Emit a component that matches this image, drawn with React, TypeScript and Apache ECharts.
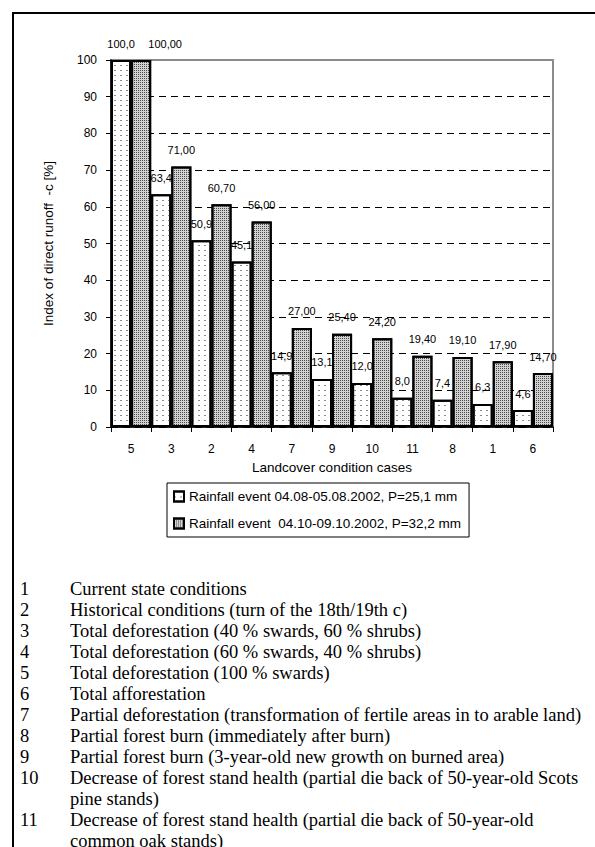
import React, { useEffect, useRef } from 'react';
import * as echarts from 'echarts';

// ---- data ----
const categories = ['5', '3', '2', '4', '7', '9', '10', '11', '8', '1', '6'];
const event1Values = [100.0, 63.4, 50.9, 45.1, 14.9, 13.1, 12.0, 8.0, 7.4, 6.3, 4.6];
const event2Values = [100.0, 71.0, 60.7, 56.0, 27.0, 25.4, 24.2, 19.4, 19.1, 17.9, 14.7];
const seriesNames = [
  'Rainfall event 04.08-05.08.2002, P=25,1 mm',
  'Rainfall event\u00a0\u00a004.10-09.10.2002, P=32,2 mm',
];
const yTicks = [0, 10, 20, 30, 40, 50, 60, 70, 80, 90, 100];
const xAxisTitle = 'Landcover condition cases';
const yAxisTitle = 'Index of direct runoff \u00a0-c [%]';
const caseNumbers = ['1', '2', '3', '4', '5', '6', '7', '8', '9', '10', '11'];
const caseDescriptions = [
  'Current state conditions',
  'Historical conditions (turn of the 18th/19th c)',
  'Total deforestation (40 % swards, 60 % shrubs)',
  'Total deforestation (60 % swards, 40 % shrubs)',
  'Total deforestation (100 % swards)',
  'Total afforestation',
  'Partial deforestation (transformation of fertile areas in to arable land)',
  'Partial forest burn (immediately after burn)',
  'Partial forest burn (3-year-old new growth on burned area)',
  'Decrease of forest stand health (partial die back of 50-year-old Scots\npine stands)',
  'Decrease of forest stand health (partial die back of 50-year-old\ncommon oak stands)',
];

const fmt1 = (v: number) => v.toFixed(1).replace('.', ',');
const fmt2 = (v: number) => v.toFixed(2).replace('.', ',');

function buildOption() {
  const listLines: { num: string; text: string; idx: number }[] = [];
  let idx = 0;
  caseNumbers.forEach((num, i) => {
    caseDescriptions[i].split('\n').forEach((t, j) => {
      listLines.push({ num: j === 0 ? num : '', text: t, idx: idx++ });
    });
  });
  const listTop = 589;
  const listStep = 21;
  const serif = '"Liberation Serif", "Times New Roman", serif';
  const graphics: any[] = [
    {
      type: 'rect',
      silent: true,
      shape: { x: 13, y: 13, width: 700, height: 1000 },
      style: { fill: 'none', stroke: '#000', lineWidth: 2 },
    },
  ];
  listLines.forEach((l) => {
    if (l.num) {
      graphics.push({
        type: 'text',
        x: 20,
        y: listTop + l.idx * listStep,
        style: { text: l.num, fontSize: 18.5, fontFamily: serif, fill: '#000', verticalAlign: 'middle', align: 'left' },
      });
    }
    graphics.push({
      type: 'text',
      x: 70,
      y: listTop + l.idx * listStep,
      style: { text: l.text, fontSize: 18.5, fontFamily: serif, fill: '#000', verticalAlign: 'middle', align: 'left' },
    });
  });

  const splitColors = yTicks.map((v) => (v === 100 ? 'rgba(0,0,0,0)' : '#000'));

  return {
    animation: false,
    backgroundColor: '#fff',
    textStyle: { fontFamily: '"Liberation Sans", Arial, sans-serif', color: '#000' },
    grid: {
      left: 111,
      top: 60,
      width: 442,
      height: 367,
      show: true,
      borderColor: '#8c8c8c',
      borderWidth: 2,
      backgroundColor: 'transparent',
    },
    legend: {
      orient: 'vertical',
      left: 167,
      top: 483,
      padding: [6, 8, 6, 6],
      itemGap: 12,
      itemWidth: 10,
      itemHeight: 10,
      icon: 'rect',
      borderColor: '#000',
      borderWidth: 1,
      textStyle: { fontSize: 13.5, color: '#000', lineHeight: 15 },
      itemStyle: { borderColor: '#000', borderWidth: 2 },
      data: seriesNames,
    },
    xAxis: {
      type: 'category',
      data: categories,
      name: xAxisTitle,
      nameLocation: 'middle',
      nameGap: 33,
      nameTextStyle: { fontSize: 13.5, color: '#000' },
      axisLine: { lineStyle: { color: '#000', width: 1.5 } },
      axisTick: { show: true, length: 5, lineStyle: { color: '#000', width: 1 } },
      axisLabel: { color: '#000', fontSize: 12, margin: 16 },
    },
    yAxis: {
      type: 'value',
      min: 0,
      max: 100,
      interval: 10,
      name: yAxisTitle,
      nameLocation: 'middle',
      nameGap: 56,
      nameTextStyle: { fontSize: 13.5, color: '#000' },
      axisLine: { show: true, lineStyle: { color: '#000', width: 1.5 } },
      axisTick: { show: true, length: 5, lineStyle: { color: '#000', width: 1 } },
      axisLabel: { color: '#000', fontSize: 12, margin: 14 },
      splitLine: { show: true, lineStyle: { color: splitColors, type: [7, 5], width: 1 } },
    },
    series: [
      {
        name: seriesNames[0],
        type: 'bar',
        z: 2,
        barGap: '0%',
        barCategoryGap: '0%',
        data: event1Values,
        itemStyle: {
          color: '#fff',
          borderColor: '#000',
          borderWidth: 2,
          decal: {
            symbol: 'rect',
            symbolSize: 1,
            color: '#8a8a8a',
            dashArrayX: [2, 4],
            dashArrayY: [1, 4],
            rotation: 0,
          },
        },
        label: {
          show: true,
          position: 'top',
          distance: 11,
          fontSize: 11,
          color: '#000',
          formatter: (p: any) => fmt1(p.value),
        },
      },
      {
        name: seriesNames[1],
        type: 'bar',
        z: 3,
        barGap: '0%',
        barCategoryGap: '0%',
        data: event2Values.map((v, i) => (i === 0 ? { value: v, label: { offset: [24, 0] } } : v)),
        itemStyle: {
          color: '#d2d2d2',
          borderColor: '#000',
          borderWidth: 2,
          decal: {
            symbol: 'rect',
            symbolSize: 1,
            color: '#4a4a4a',
            dashArrayX: [1, 1],
            dashArrayY: [1, 1],
            rotation: 0,
          },
        },
        label: {
          show: true,
          position: 'top',
          distance: 11,
          fontSize: 11,
          color: '#000',
          formatter: (p: any) => fmt2(p.value),
        },
      },
    ],
    graphic: graphics,
  };
}

export default function App() {
  const ref = useRef<HTMLDivElement>(null);
  useEffect(() => {
    if (!ref.current) return;
    const chart = echarts.init(ref.current, null, { renderer: 'svg' });
    chart.setOption(buildOption() as any);
    return () => chart.dispose();
  }, []);
  return (
    <div
      ref={ref}
      style={{ position: 'fixed', left: 0, top: 0, width: 595, height: 847, background: '#fff' }}
    />
  );
}
